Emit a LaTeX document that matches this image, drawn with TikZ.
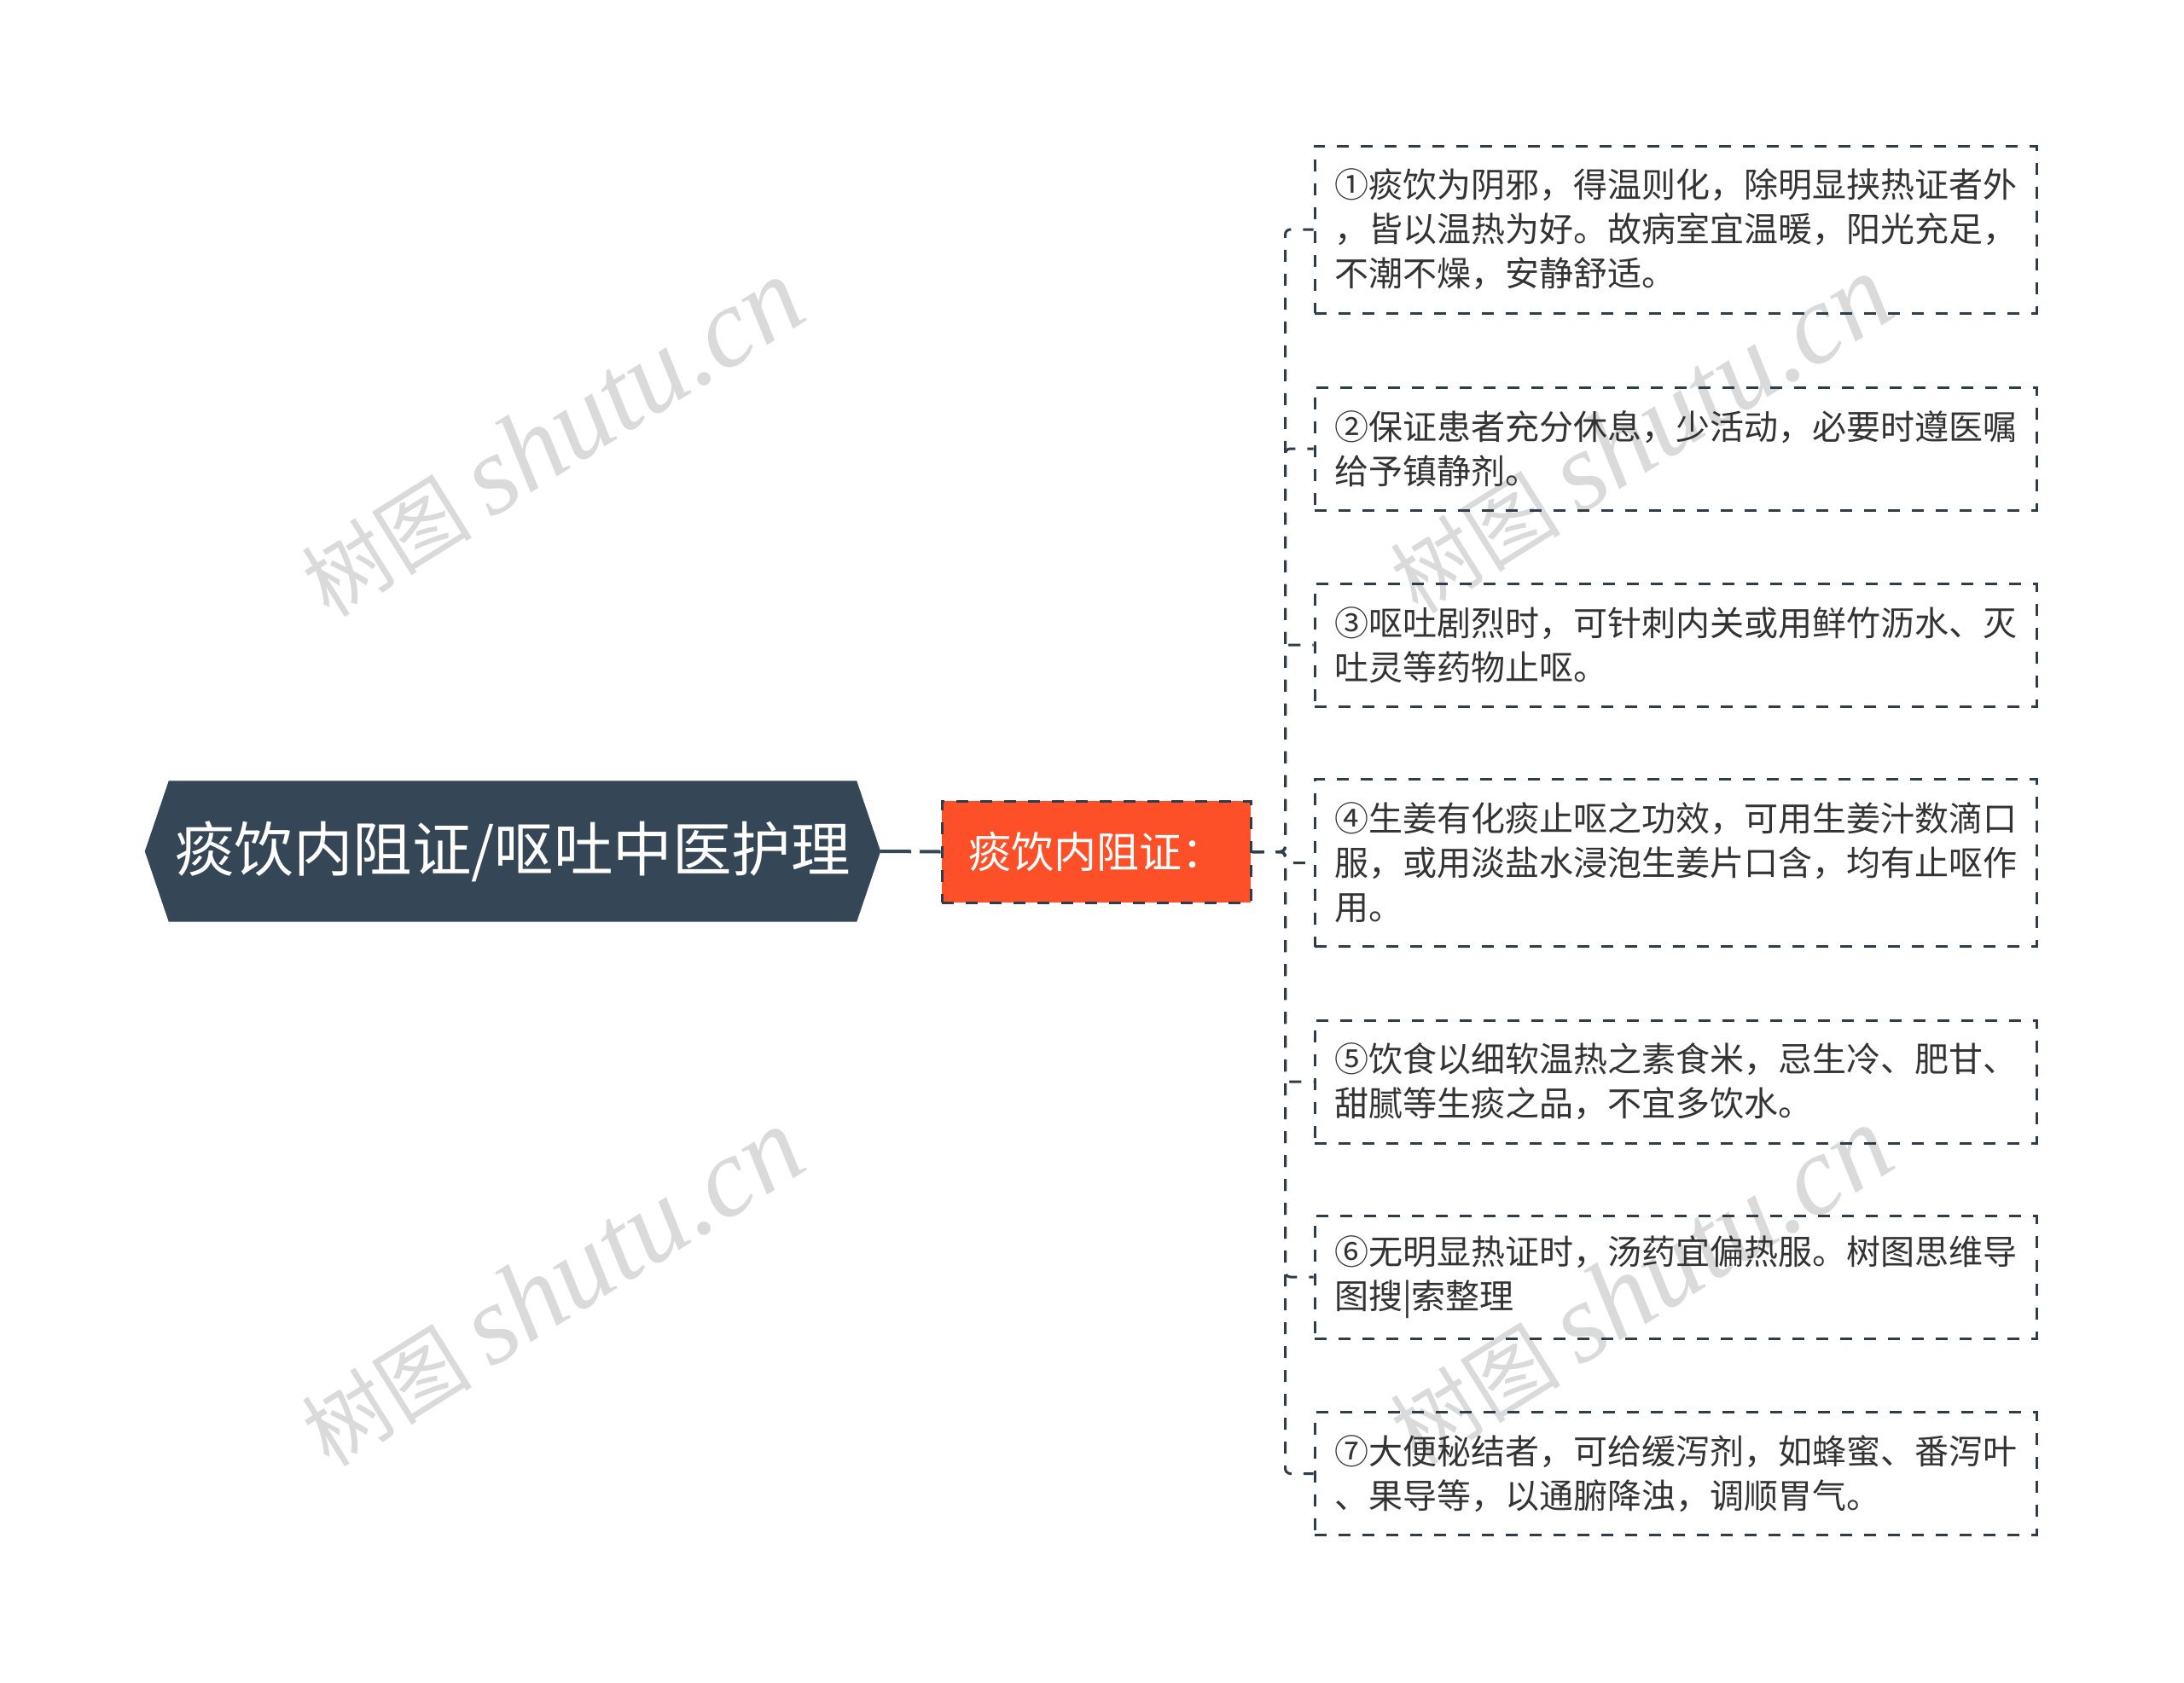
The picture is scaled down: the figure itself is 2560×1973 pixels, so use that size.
\documentclass[tikz,border=0pt]{standalone}
\usepackage{fontspec}
\setmainfont{Noto Sans CJK SC}
\newfontfamily\wmfont{Liberation Serif}
\usetikzlibrary{backgrounds}
\definecolor{rootcol}{HTML}{354656}
\definecolor{midcol}{HTML}{FD5028}
\definecolor{linecol}{HTML}{2E3D4C}
\definecolor{txtcol}{HTML}{333333}
\definecolor{wmcol}{HTML}{DADADA}
\tikzset{
  dashline/.style={draw=linecol, line width=3pt, dash pattern=on 14pt off 14pt},
  conn/.style={dashline, rounded corners=6pt},
  leafbox/.style={dashline, text=txtcol, font=\fontsize{40}{52}\selectfont,
    text width=800pt, align=left, inner xsep=23pt, inner ysep=0pt,
    minimum height=#1, anchor=center},
  rootnode/.style={minimum width=806pt, minimum height=165pt, inner sep=0pt,
    text=white, font=\fontsize{69.5}{80}\selectfont},
  midnode/.style={dashline, fill=midcol, minimum width=362pt, minimum height=119pt,
    inner sep=0pt, text=white, font=\fontsize{50}{58}\selectfont},
  rootconn/.style={draw=rootcol, line width=4pt, dash pattern=on 36pt off 10pt},
  wm/.style={text=wmcol, font=\fontsize{100}{130}\selectfont, inner sep=0pt, rotate=32}
}
\newcommand{\wmtext}{树图 {\wmfont\itshape\fontsize{132}{140}\selectfont shutu.cn}}
\begin{document}
\begin{tikzpicture}[x=1pt, y=-1pt]
\useasboundingbox (0,0) rectangle (2560,1973);

% nodes
\node[rootnode] (root) at (601,998) {痰饮内阻证/呕吐中医护理};
\node[midnode] (mid) at (1285,998.5) {痰饮内阻证：};

\node[leafbox=196pt] (l1) at (1964,269) {①痰饮为阴邪，得温则化，除明显挟热证者外\\，皆以温热为好。故病室宜温暖，阳光充足，\\不潮不燥，安静舒适。};
\node[leafbox=144pt] (l2) at (1964,526) {②保证患者充分休息，少活动，必要时遵医嘱\\给予镇静剂。};
\node[leafbox=144pt] (l3) at (1964,756) {③呕吐剧烈时，可针刺内关或用鲜竹沥水、灭\\吐灵等药物止呕。};
\node[leafbox=196pt] (l4) at (1964,1011.5) {④生姜有化痰止呕之功效，可用生姜汁数滴口\\服，或用淡盐水浸泡生姜片口含，均有止呕作\\用。};
\node[leafbox=144pt] (l5) at (1964,1268) {⑤饮食以细软温热之素食米，忌生冷、肥甘、\\甜腻等生痰之品，不宜多饮水。};
\node[leafbox=144pt] (l6) at (1964,1497) {⑥无明显热证时，汤药宜偏热服。树图思维导\\图搜|索整理};
\node[leafbox=144pt] (l7) at (1964,1727.5) {⑦大便秘结者，可给缓泻剂，如蜂蜜、番泻叶\\、果导等，以通腑降浊，调顺胃气。};

% background
\begin{scope}[on background layer]
  \fill[white] (0,0) rectangle (2560,1973);
  \node[wm] (w1) at (647,514) {\wmtext};
  \node[wm] (w2) at (647,1510) {\wmtext};
  \node[wm] (w3) at (1923,510) {\wmtext};
  \node[wm] (w4) at (1923,1508) {\wmtext};
  \fill[rootcol] (root.north west) -- (root.north east) -- ([xshift=28pt]root.east)
    -- (root.south east) -- (root.south west) -- ([xshift=-28pt]root.west) -- cycle;
\end{scope}

% connectors
\draw[rootconn] ([xshift=28pt]root.east) -- (mid.west);
\foreach \n in {l1,l2,l3,l4,l5,l6,l7}{
  \draw[conn] (mid.east) -- ++(39pt,0) |- (\n.west);
}
\end{tikzpicture}
\end{document}
